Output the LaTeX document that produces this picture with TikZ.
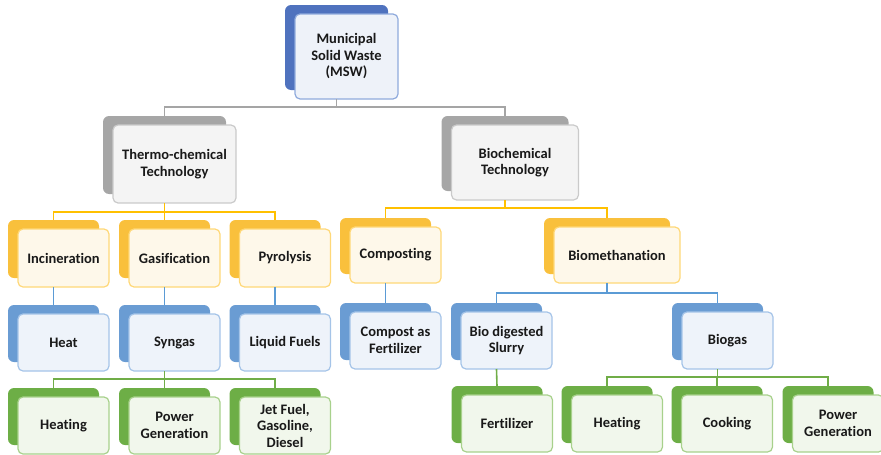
\documentclass[tikz,border=0pt]{standalone}
\usepackage{fontspec}
\setmainfont{Carlito}[Ligatures=NoCommon]
\usetikzlibrary{positioning}

% colour sets: tab, border, fill, wire
\definecolor{mswtab}{HTML}{4F72BE}
\definecolor{mswline}{HTML}{8FAADC}
\definecolor{mswfill}{HTML}{EEF2F9}
\definecolor{greytab}{HTML}{A6A6A6}
\definecolor{greyline}{HTML}{CACACA}
\definecolor{greyfill}{HTML}{F4F4F4}
\definecolor{greywire}{HTML}{A5A5A5}
\definecolor{ylwtab}{HTML}{F9C03C}
\definecolor{ylwline}{HTML}{FFD878}
\definecolor{ylwfill}{HTML}{FEF8EA}
\definecolor{ylwwire}{HTML}{FFC000}
\definecolor{blutab}{HTML}{6A9CD3}
\definecolor{bluline}{HTML}{A5C4E8}
\definecolor{blufill}{HTML}{EEF3FA}
\definecolor{bluwire}{HTML}{5B9BD5}
\definecolor{grntab}{HTML}{6DAE46}
\definecolor{grnline}{HTML}{A8D18C}
\definecolor{grnfill}{HTML}{F1F7EC}
\definecolor{grnwire}{HTML}{70AD47}

\tikzset{
  cardtab/.style={fill=#1tab, rounded corners=6pt, inner sep=0pt, outer sep=0pt},
  cardfront/.style={draw=#1line, fill=#1fill, line width=1.2pt, rounded corners=5pt,
    inner sep=1pt, outer sep=0pt, align=center, text=black!90,
    font=\bfseries\fontsize{14.5}{16.5}\selectfont},
  wire/.style={draw=#1wire, line width=1.6pt}
}

% name, colour set, x, y, width, height, text
\newcommand\card[7]{%
  \node[cardtab=#2, minimum width=#5pt, minimum height=#6pt] (#1-t) at (#3-10,#4-9) {};
  \node[cardfront=#2, minimum width=#5pt, minimum height=#6pt] (#1) at (#3,#4) {#7};
}

\begin{document}
\begin{tikzpicture}[x=1pt,y=-1pt]
  \useasboundingbox (0,0) rectangle (881,455);

  % bus levels
  \coordinate (bus0) at (0,107);
  \coordinate (busT) at (0,212);
  \coordinate (busB) at (0,208);
  \coordinate (busM) at (0,293);
  \coordinate (busS) at (0,379);
  \coordinate (busG) at (0,377);

  % top
  \card{msw}{msw}{346.5}{56.5}{103}{85}{Municipal\\Solid Waste\\(MSW)}
  \card{thermo}{grey}{174.5}{164}{123}{78}{Thermo-chemical\\Technology}
  \card{bio}{grey}{515}{162.5}{127}{75}{Biochemical\\Technology}

  % processes
  \card{inc}{ylw}{63.5}{258}{91}{58}{Incineration}
  \card{gas}{ylw}{174.5}{258}{91}{58}{Gasification}
  \card{pyr}{ylw}{285}{258}{91}{58}{Pyrolysis}
  \card{comp}{ylw}{395.5}{255}{91}{56}{Composting}
  \card{meth}{ylw}{617}{255}{126}{56}{Biomethanation}

  % products
  \card{heat}{blu}{63.5}{342.5}{91}{57}{Heat}
  \card{syn}{blu}{174.5}{342.5}{91}{57}{Syngas}
  \card{liq}{blu}{285}{342.5}{91}{57}{Liquid Fuels}
  \card{cfert}{blu}{395.5}{340.5}{91}{57}{Compost as\\Fertilizer}
  \card{slurry}{blu}{506.5}{340.5}{91}{57}{Bio digested\\Slurry}
  \card{biogas}{blu}{727.5}{340.5}{91}{57}{Biogas}

  % end uses
  \card{heatg}{grn}{63.5}{425.5}{91}{57}{Heating}
  \card{power}{grn}{174.5}{425.5}{91}{57}{Power\\Generation}
  \card{jet}{grn}{285}{425.5}{91}{57}{Jet Fuel,\\Gasoline,\\Diesel}
  \card{fert}{grn}{507}{423.5}{91}{57}{Fertilizer}
  \card{heatr}{grn}{617}{423.5}{91}{57}{Heating}
  \card{cook}{grn}{727}{423.5}{91}{57}{Cooking}
  \card{powr}{grn}{838}{423.5}{91}{57}{Power\\Generation}

  % connectors
  \foreach \c in {thermo,bio}
    \draw[wire=grey] (msw-t |- msw.south) -- (msw-t |- bus0) -| (\c-t.north);
  \foreach \c in {inc,gas,pyr}
    \draw[wire=ylw] (thermo-t |- thermo.south) -- (thermo-t |- busT) -| (\c-t.north);
  \foreach \c in {comp,meth}
    \draw[wire=ylw] (bio-t |- bio.south) -- (bio-t |- busB) -| (\c-t.north);
  \draw[wire=blu] (inc-t |- inc.south) -- (heat-t.north);
  \draw[wire=blu] (gas-t |- gas.south) -- (syn-t.north);
  \draw[wire=blu] (pyr-t |- pyr.south) -- (liq-t.north);
  \draw[wire=blu] (comp-t |- comp.south) -- (cfert-t.north);
  \foreach \c in {slurry,biogas}
    \draw[wire=blu] (meth-t |- meth.south) -- (meth-t |- busM) -| (\c-t.north);
  \foreach \c in {heatg,power,jet}
    \draw[wire=grn] (syn-t |- syn.south) -- (syn-t |- busS) -| (\c-t.north);
  \draw[wire=grn] (slurry-t |- slurry.south) -- (fert-t.north);
  \foreach \c in {heatr,cook,powr}
    \draw[wire=grn] (biogas-t |- biogas.south) -- (biogas-t |- busG) -| (\c-t.north);
\end{tikzpicture}
\end{document}
